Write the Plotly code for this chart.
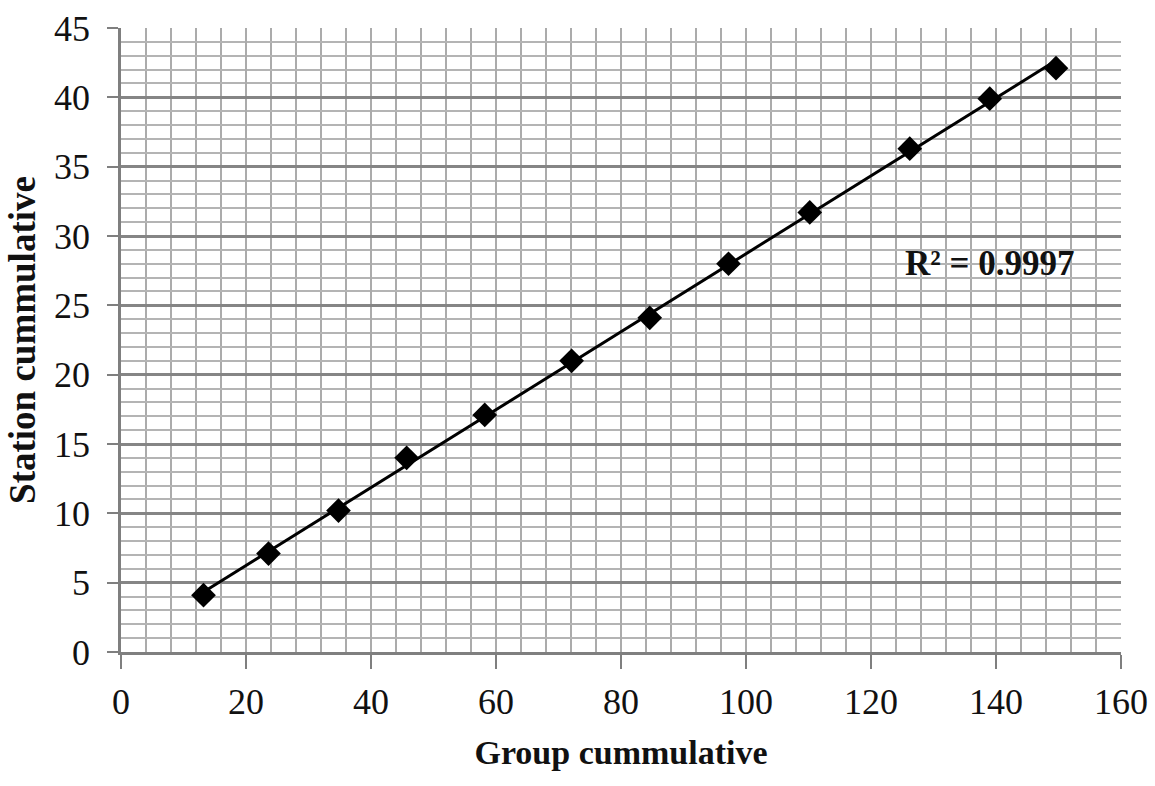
import numpy as np
import plotly.graph_objects as go

# Cumulative totals: group (x) vs station (y)
group_cum = [13.2, 23.6, 34.8, 45.7, 58.2, 72.1, 84.6, 97.2, 110.2, 126.2, 139.0, 149.6]
station_cum = [4.1, 7.1, 10.2, 14.0, 17.1, 21.0, 24.1, 28.0, 31.7, 36.3, 39.9, 42.1]
r2_label = "<b>R² = 0.9997</b>"

x = np.array(group_cum)
y = np.array(station_cum)
slope, intercept = np.polyfit(x, y, 1)
fit_x = np.array([x.min(), x.max()])
fit_y = slope * fit_x + intercept

serif = "Liberation Serif, Times New Roman, serif"

fig = go.Figure()
# linear trendline
fig.add_trace(go.Scatter(
    x=fit_x, y=fit_y, mode="lines",
    line=dict(color="black", width=3), hoverinfo="skip", showlegend=False,
))
# observed points
fig.add_trace(go.Scatter(
    x=group_cum, y=station_cum, mode="markers",
    marker=dict(symbol="diamond", size=19, color="black"),
    showlegend=False,
))

fig.add_annotation(
    x=138.9, y=28.05, xref="x", yref="y", text=r2_label, showarrow=False,
    font=dict(family=serif, size=35, color="#111"),
)

fig.update_xaxes(
    range=[0, 160], dtick=20, tick0=0,
    showgrid=True, gridcolor="#ababab", gridwidth=2,
    minor=dict(dtick=4, tick0=0, showgrid=True, gridcolor="#ababab", gridwidth=2, ticks=""),
    showline=True, linecolor="#7f7f7f", linewidth=2.5,
    ticks="outside", ticklen=14, tickwidth=2, tickcolor="#7f7f7f",
    tickfont=dict(family=serif, size=36, color="#111"),
    ticklabelstandoff=2,
    zeroline=False, mirror=False,
    title=dict(text="<b>Group cummulative</b>", font=dict(family=serif, size=34, color="#111"), standoff=20),
    automargin=False,
)
fig.update_yaxes(
    range=[0, 45], dtick=5, tick0=0,
    showgrid=True, gridcolor="#858585", gridwidth=2.5,
    minor=dict(dtick=1, tick0=0, showgrid=True, gridcolor="#b4b4b4", gridwidth=2, ticks=""),
    showline=True, linecolor="#7f7f7f", linewidth=2.5,
    ticks="outside", ticklen=11, tickwidth=2, tickcolor="#7f7f7f",
    tickfont=dict(family=serif, size=36, color="#111"),
    ticklabelstandoff=10,
    zeroline=False,
    title=dict(text="<b>Station cummulative</b>", font=dict(family=serif, size=37, color="#111"), standoff=8),
    automargin=False,
)

fig.update_layout(
    width=1155, height=786,
    margin=dict(l=121, r=34, t=28, b=134),
    paper_bgcolor="white", plot_bgcolor="white",
    showlegend=False,
)

fig.write_html("out.html")
